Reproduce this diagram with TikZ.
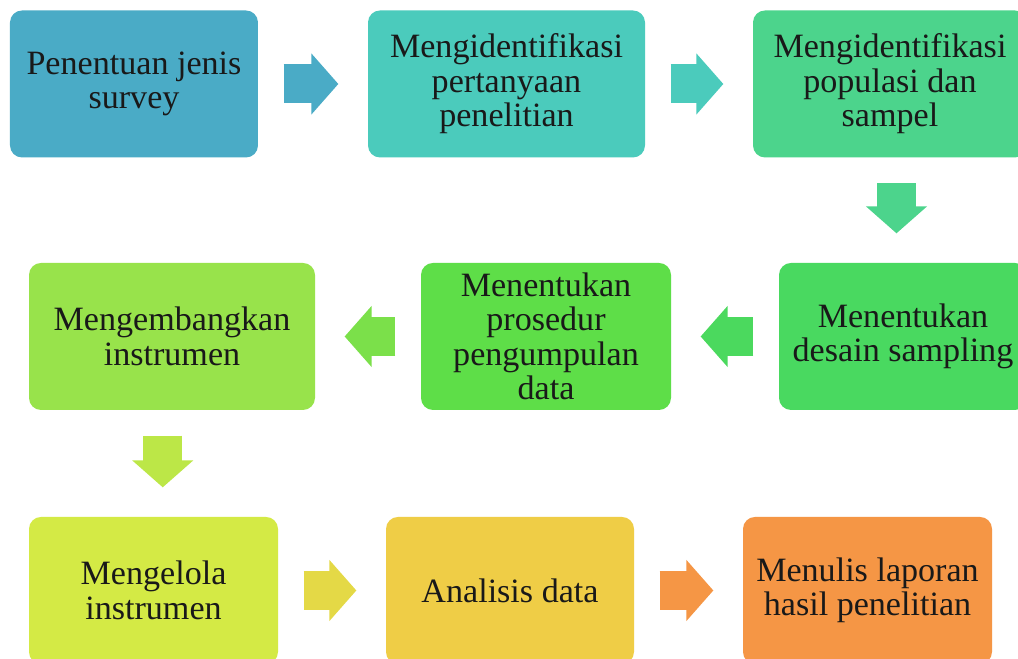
\documentclass[tikz,border=0pt]{standalone}
\usepackage{fontspec}
\setmainfont{Liberation Serif}
\usetikzlibrary{arrows.meta}

\definecolor{surveyblue}{HTML}{4AABC6}
\definecolor{questionteal}{HTML}{4BCBBC}
\definecolor{populationgreen}{HTML}{4CD48C}
\definecolor{designgreen}{HTML}{49D960}
\definecolor{proceduregreen}{HTML}{5EDE48}
\definecolor{developlime}{HTML}{98E34B}
\definecolor{managelime}{HTML}{D4EA45}
\definecolor{analysisyellow}{HTML}{EFCD46}
\definecolor{reportorange}{HTML}{F59645}

\begin{document}
\begin{tikzpicture}[
    stepbox/.style={rounded corners=0.12cm, minimum height=1.47cm, align=center,
      inner sep=0pt, text=black!90, font=\fontsize{9.7}{9.8}\selectfont},
    blockarrow/.style={draw=#1, line width=0.39cm, shorten <=0.25cm, shorten >=0.29cm,
      -{Triangle[length=0.27cm, width=0.61cm, line width=0.5pt]}}]
      \useasboundingbox (0,0) rectangle (10.18,6.59);
      \fill[white] (0,0) rectangle (10.18,6.59);
      \clip (0,0) rectangle (10.18,6.59);
      \node[stepbox, fill=surveyblue, minimum width=2.48cm] (survey) at (1.34,5.75)
        {Penentuan jenis\\survey};
      \node[stepbox, fill=questionteal, minimum width=2.77cm] (question) at (5.065,5.75)
        {Mengidentifikasi\\pertanyaan\\penelitian};
      \node[stepbox, fill=populationgreen, minimum width=2.74cm] (population) at (8.90,5.75)
        {Mengidentifikasi\\populasi dan\\sampel};
      \node[stepbox, fill=designgreen, minimum width=2.48cm] (design) at (9.03,3.225)
        {Menentukan\\desain sampling};
      \node[stepbox, fill=proceduregreen, minimum width=2.50cm] (procedure) at (5.46,3.225)
        {Menentukan\\prosedur\\pengumpulan\\data};
      \node[stepbox, fill=developlime, minimum width=2.86cm] (develop) at (1.72,3.225)
        {Mengembangkan\\instrumen};
      \node[stepbox, fill=managelime, minimum width=2.49cm] (manage) at (1.535,0.685)
        {Mengelola\\instrumen};
      \node[stepbox, fill=analysisyellow, minimum width=2.48cm] (analysis) at (5.10,0.685)
        {Analisis data};
      \node[stepbox, fill=reportorange, minimum width=2.49cm] (report) at (8.675,0.685)
        {Menulis laporan\\hasil penelitian};
      \draw[blockarrow=surveyblue] (survey) -- (question);
      \draw[blockarrow=questionteal] (question) -- (population);
      \path (population.south) -- (design.north) coordinate[pos=0.5] (turnright);
      \draw[blockarrow=populationgreen] (turnright |- population.south) -- (turnright |- design.north);
      \draw[blockarrow=designgreen!90!proceduregreen] (design) -- (procedure);
      \draw[blockarrow=proceduregreen!50!developlime] (procedure) -- (develop);
      \path (develop.south) -- (manage.north) coordinate[pos=0.5] (turnleft);
      \draw[blockarrow=developlime!40!managelime] (turnleft |- develop.south) -- (turnleft |- manage.north);
      \draw[blockarrow=managelime!40!analysisyellow] (manage) -- (analysis);
      \draw[blockarrow=reportorange] (analysis) -- (report);
    \end{tikzpicture}
\end{document}
